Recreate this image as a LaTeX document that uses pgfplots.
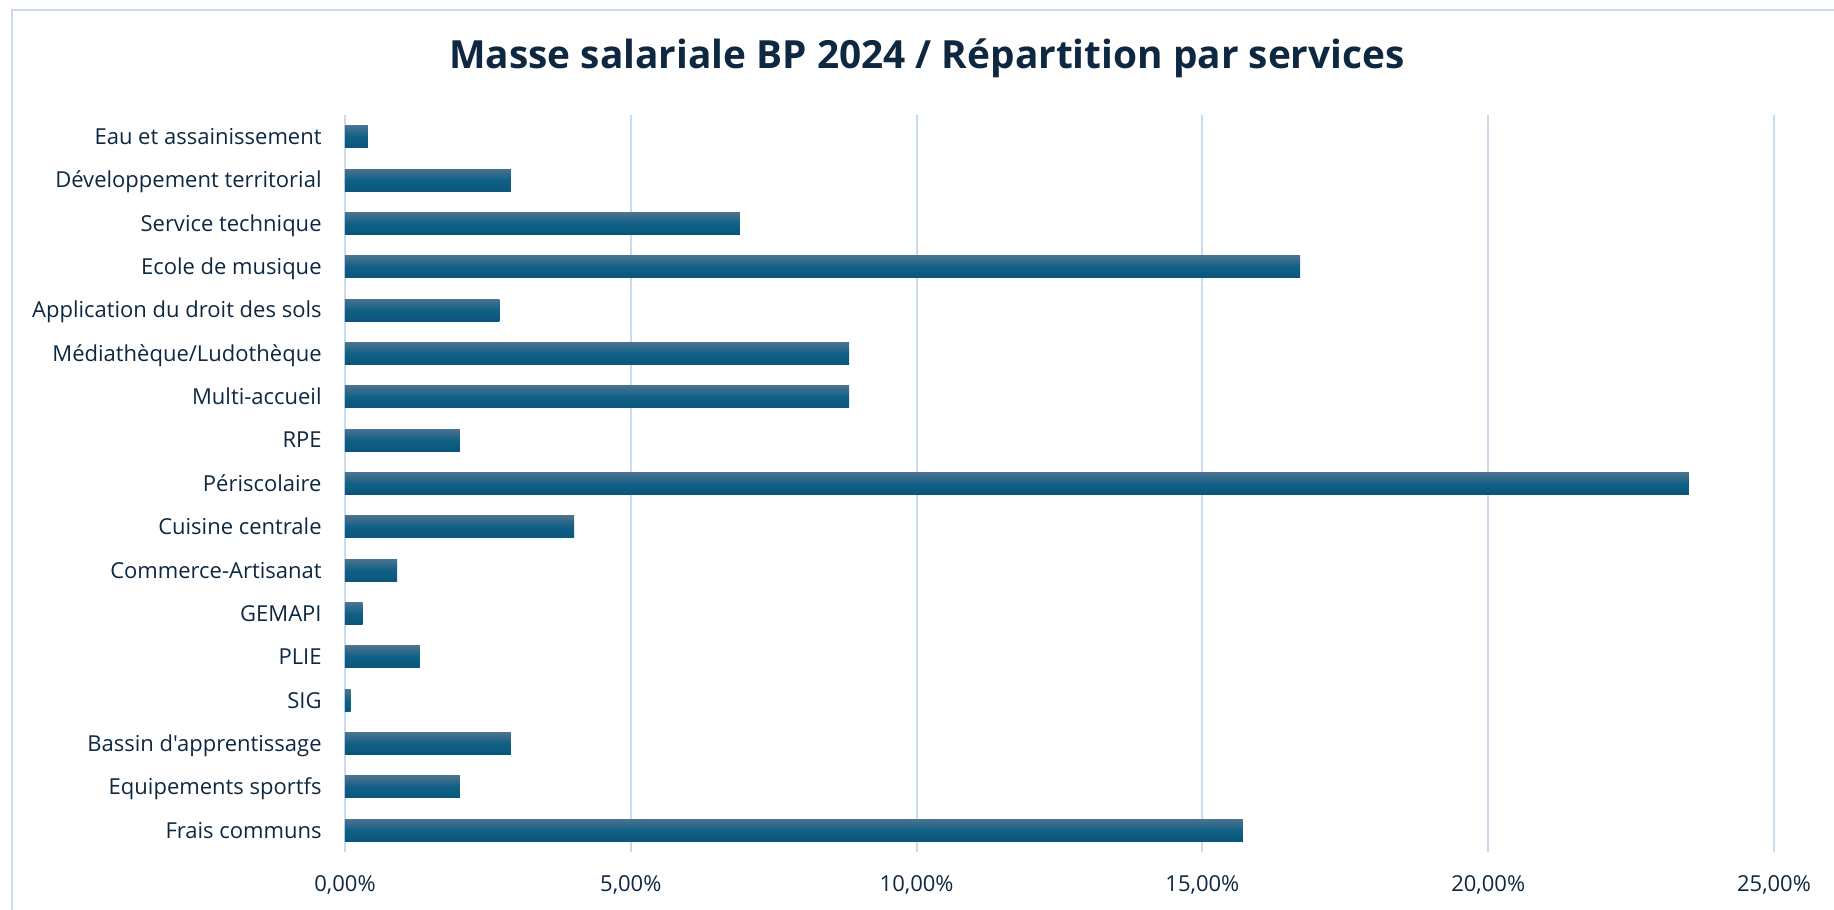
\documentclass[border=0pt]{standalone}
\usepackage{fontspec}
\setmainfont{Open Sans}[Ligatures=TeXOff]
\usepackage{pgfplots}
\pgfplotsset{compat=1.18}
\definecolor{txt}{RGB}{14,40,65}
\definecolor{gridc}{RGB}{200,220,241}
\definecolor{bartop}{RGB}{74,114,143}
\definecolor{barmid}{RGB}{16,96,134}
\definecolor{barbot}{RGB}{10,86,122}
\pgfplotsset{onebar/.style={xbar, bar shift=0pt, bar width=11pt, draw=none, top color=bartop, bottom color=barbot, middle color=barmid}}
\begin{document}
\begin{tikzpicture}
\path[use as bounding box] (-172.5pt,-28.5pt) rectangle (744.5pt,426pt);
\draw[gridc, line width=0.7pt] (-166.5pt,-40pt) -- (-166.5pt,421pt) -- (760pt,421pt);
\begin{axis}[
  at={(0,0)}, anchor=south west,
  scale only axis, width=714.5pt, height=368.5pt,
  xmin=0, xmax=25, ymin=-0.5, ymax=16.5,
  y dir=reverse,
  axis line style={draw=none},
  tick style={draw=none},
  xmajorgrids, grid style={gridc, line width=1pt},
  xtick={0,5,10,15,20,25},
  xticklabels={{0,00\%},{5,00\%},{10,00\%},{15,00\%},{20,00\%},{25,00\%}},
  ytick={0,...,16},
  yticklabels={Eau et assainissement,Développement territorial,Service technique,Ecole de musique,Application du droit des sols,Médiathèque/Ludothèque,Multi-accueil,RPE,Périscolaire,Cuisine centrale,Commerce-Artisanat,GEMAPI,PLIE,SIG,Bassin d'apprentissage,Equipements sportfs,Frais communs},
  ticklabel style={font=\fontsize{11}{13}\selectfont, text=txt, inner sep=0pt},
  yticklabel style={anchor=base east, xshift=-11.5pt, yshift=-3.9pt},
  xticklabel style={anchor=base, yshift=-19.7pt},
  clip=false,
]
\draw[gridc, line width=1pt] (axis cs:0,-0.5) -- (axis cs:0,16.5);
\addplot[onebar] coordinates {(0.40,0)};
\addplot[onebar] coordinates {(2.90,1)};
\addplot[onebar] coordinates {(6.91,2)};
\addplot[onebar] coordinates {(16.71,3)};
\addplot[onebar] coordinates {(2.70,4)};
\addplot[onebar] coordinates {(8.82,5)};
\addplot[onebar] coordinates {(8.82,6)};
\addplot[onebar] coordinates {(2.01,7)};
\addplot[onebar] coordinates {(23.51,8)};
\addplot[onebar] coordinates {(4.01,9)};
\addplot[onebar] coordinates {(0.91,10)};
\addplot[onebar] coordinates {(0.31,11)};
\addplot[onebar] coordinates {(1.31,12)};
\addplot[onebar] coordinates {(0.10,13)};
\addplot[onebar] coordinates {(2.90,14)};
\addplot[onebar] coordinates {(2.01,15)};
\addplot[onebar] coordinates {(15.71,16)};
\end{axis}
\node[anchor=base, text=txt, font=\fontsize{19.4}{23}\selectfont\bfseries, inner sep=0pt] at (291pt,391.5pt) {Masse salariale BP 2024 / Répartition par services};
\end{tikzpicture}
\end{document}
